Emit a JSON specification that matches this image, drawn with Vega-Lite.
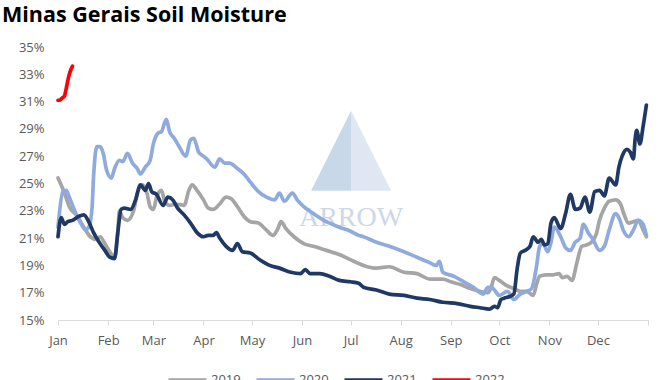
{
  "$schema": "https://vega.github.io/schema/vega-lite/v6.json",
  "width": 590,
  "height": 273,
  "autosize": {"type": "none"},
  "padding": {"left": 58, "top": 47, "right": 22, "bottom": 60},
  "background": "white",
  "config": {
    "view": {"stroke": null},
    "font": "Open Sans",
    "axis": {"labelOverlap": false, "labelFlush": false, "grid": false, "title": null, "labelFontSize": 13, "labelColor": "#595959", "labelFont": "Open Sans"},
    "axisX": {"domainColor": "#D9D9D9", "tickColor": "#D9D9D9", "tickSize": 5, "labelPadding": 9},
    "axisY": {"domain": false, "ticks": false, "labelPadding": 14},
    "title": {"font": "Open Sans", "fontSize": 21.5, "fontWeight": "bold", "color": "#000000", "anchor": "start"},
    "legend": {
      "direction": "horizontal",
      "symbolType": "stroke",
      "symbolSize": 1444,
      "symbolStrokeWidth": 3,
      "labelFontSize": 13,
      "labelColor": "#595959",
      "labelFont": "Open Sans",
      "columnPadding": 9,
      "labelOffset": 3
    }
  },
  "title": {
    "text": "Minas Gerais Soil Moisture",
    "frame": "group",
    "dx": -56,
    "offset": 15
  },
  "layer": [
    {
      "data": {"values": [{}]},
      "mark": {"type": "point", "shape": "M0,-1L-1,1L0,1Z", "size": 6400, "filled": true, "color": "#C9D8E8", "opacity": 1},
      "encoding": {
        "x": {"datum": 181.3, "type": "quantitative"},
        "y": {"datum": 27.4, "type": "quantitative"}
      }
    },
    {
      "data": {"values": [{}]},
      "mark": {"type": "point", "shape": "M0,-1L1,1L0,1Z", "size": 6400, "filled": true, "color": "#E1E7F2", "opacity": 1},
      "encoding": {
        "x": {"datum": 181.3, "type": "quantitative"},
        "y": {"datum": 27.4, "type": "quantitative"}
      }
    },
    {
      "data": {"values": [{}]},
      "mark": {"type": "text", "text": "ARROW", "font": "Liberation Serif", "fontSize": 28, "color": "#CCD8E8", "baseline": "alphabetic", "align": "center"},
      "encoding": {
        "x": {"datum": 181.3, "type": "quantitative"},
        "y": {"datum": 21.9, "type": "quantitative"}
      }
    },
    {
      "data": {
        "values": [
          {"year": "2019", "day": 0, "value": 25.4}, {"year": "2019", "day": 4, "value": 24.3}, {"year": "2019", "day": 7, "value": 23.3}, {"year": "2019", "day": 12, "value": 22.6}, {"year": "2019", "day": 16, "value": 21.8}, {"year": "2019", "day": 20, "value": 21.1}, {"year": "2019", "day": 24, "value": 20.9}, {"year": "2019", "day": 26, "value": 21.1}, {"year": "2019", "day": 29, "value": 20.6}, {"year": "2019", "day": 32, "value": 20.0}, {"year": "2019", "day": 35, "value": 19.6}, {"year": "2019", "day": 37, "value": 21.5}, {"year": "2019", "day": 38, "value": 23.0}, {"year": "2019", "day": 40, "value": 22.5}, {"year": "2019", "day": 43, "value": 22.3}, {"year": "2019", "day": 47, "value": 23.1}, {"year": "2019", "day": 49, "value": 24.3}, {"year": "2019", "day": 52, "value": 24.9}, {"year": "2019", "day": 55, "value": 24.3}, {"year": "2019", "day": 57, "value": 23.3}, {"year": "2019", "day": 59, "value": 23.1}, {"year": "2019", "day": 61, "value": 24.0}, {"year": "2019", "day": 64, "value": 24.5}, {"year": "2019", "day": 66, "value": 23.7}, {"year": "2019", "day": 69, "value": 23.4}, {"year": "2019", "day": 73, "value": 23.5}, {"year": "2019", "day": 78, "value": 23.4}, {"year": "2019", "day": 81, "value": 24.5}, {"year": "2019", "day": 83, "value": 24.9}, {"year": "2019", "day": 86, "value": 24.5}, {"year": "2019", "day": 90, "value": 23.8}, {"year": "2019", "day": 93, "value": 23.2}, {"year": "2019", "day": 96, "value": 23.1}, {"year": "2019", "day": 100, "value": 23.5}, {"year": "2019", "day": 104, "value": 24.0}, {"year": "2019", "day": 107, "value": 23.9}, {"year": "2019", "day": 111, "value": 23.3}, {"year": "2019", "day": 115, "value": 22.6}, {"year": "2019", "day": 119, "value": 22.2}, {"year": "2019", "day": 124, "value": 22.1}, {"year": "2019", "day": 128, "value": 21.7}, {"year": "2019", "day": 133, "value": 21.2}, {"year": "2019", "day": 136, "value": 21.7}, {"year": "2019", "day": 138, "value": 22.2}, {"year": "2019", "day": 141, "value": 21.7}, {"year": "2019", "day": 146, "value": 21.1}, {"year": "2019", "day": 152, "value": 20.6}, {"year": "2019", "day": 158, "value": 20.4}, {"year": "2019", "day": 166, "value": 20.1}, {"year": "2019", "day": 174, "value": 19.8}, {"year": "2019", "day": 183, "value": 19.3}, {"year": "2019", "day": 189, "value": 19.0}, {"year": "2019", "day": 197, "value": 18.8}, {"year": "2019", "day": 205, "value": 18.9}, {"year": "2019", "day": 214, "value": 18.5}, {"year": "2019", "day": 222, "value": 18.4}, {"year": "2019", "day": 230, "value": 18.0}, {"year": "2019", "day": 238, "value": 18.0}, {"year": "2019", "day": 243, "value": 17.8}, {"year": "2019", "day": 249, "value": 17.6}, {"year": "2019", "day": 255, "value": 17.3}, {"year": "2019", "day": 261, "value": 17.1}, {"year": "2019", "day": 266, "value": 17.0}, {"year": "2019", "day": 268, "value": 17.4}, {"year": "2019", "day": 270, "value": 18.1}, {"year": "2019", "day": 273, "value": 17.9}, {"year": "2019", "day": 278, "value": 17.5}, {"year": "2019", "day": 282, "value": 17.3}, {"year": "2019", "day": 286, "value": 17.1}, {"year": "2019", "day": 290, "value": 17.1}, {"year": "2019", "day": 294, "value": 16.8}, {"year": "2019", "day": 296, "value": 17.6}, {"year": "2019", "day": 298, "value": 18.2}, {"year": "2019", "day": 302, "value": 18.3}, {"year": "2019", "day": 306, "value": 18.3}, {"year": "2019", "day": 310, "value": 18.4}, {"year": "2019", "day": 312, "value": 18.1}, {"year": "2019", "day": 315, "value": 18.2}, {"year": "2019", "day": 318, "value": 17.9}, {"year": "2019", "day": 321, "value": 19.2}, {"year": "2019", "day": 324, "value": 20.4}, {"year": "2019", "day": 327, "value": 20.5}, {"year": "2019", "day": 330, "value": 20.7}, {"year": "2019", "day": 333, "value": 21.3}, {"year": "2019", "day": 335, "value": 22.3}, {"year": "2019", "day": 338, "value": 23.2}, {"year": "2019", "day": 341, "value": 23.7}, {"year": "2019", "day": 345, "value": 23.8}, {"year": "2019", "day": 348, "value": 23.5}, {"year": "2019", "day": 350, "value": 22.8}, {"year": "2019", "day": 353, "value": 22.1}, {"year": "2019", "day": 356, "value": 22.2}, {"year": "2019", "day": 359, "value": 22.3}, {"year": "2019", "day": 362, "value": 21.6}, {"year": "2019", "day": 364, "value": 21.1},

          {"year": "2020", "day": 0, "value": 21.8}, {"year": "2020", "day": 3, "value": 24.4}, {"year": "2020", "day": 5, "value": 24.5}, {"year": "2020", "day": 7, "value": 24.0}, {"year": "2020", "day": 10, "value": 23.1}, {"year": "2020", "day": 14, "value": 22.1}, {"year": "2020", "day": 17, "value": 21.6}, {"year": "2020", "day": 19, "value": 21.8}, {"year": "2020", "day": 21, "value": 23.1}, {"year": "2020", "day": 22, "value": 25.5}, {"year": "2020", "day": 24, "value": 27.7}, {"year": "2020", "day": 26, "value": 27.7}, {"year": "2020", "day": 28, "value": 27.2}, {"year": "2020", "day": 30, "value": 26.0}, {"year": "2020", "day": 33, "value": 25.4}, {"year": "2020", "day": 35, "value": 26.1}, {"year": "2020", "day": 38, "value": 26.7}, {"year": "2020", "day": 40, "value": 26.6}, {"year": "2020", "day": 43, "value": 27.2}, {"year": "2020", "day": 46, "value": 26.5}, {"year": "2020", "day": 49, "value": 26.1}, {"year": "2020", "day": 51, "value": 25.7}, {"year": "2020", "day": 54, "value": 26.2}, {"year": "2020", "day": 57, "value": 26.7}, {"year": "2020", "day": 59, "value": 27.9}, {"year": "2020", "day": 62, "value": 28.7}, {"year": "2020", "day": 64, "value": 28.8}, {"year": "2020", "day": 67, "value": 29.7}, {"year": "2020", "day": 69, "value": 28.8}, {"year": "2020", "day": 72, "value": 28.3}, {"year": "2020", "day": 75, "value": 27.7}, {"year": "2020", "day": 79, "value": 27.0}, {"year": "2020", "day": 82, "value": 28.2}, {"year": "2020", "day": 84, "value": 28.3}, {"year": "2020", "day": 87, "value": 27.3}, {"year": "2020", "day": 90, "value": 27.0}, {"year": "2020", "day": 92, "value": 26.8}, {"year": "2020", "day": 97, "value": 26.2}, {"year": "2020", "day": 100, "value": 26.8}, {"year": "2020", "day": 103, "value": 26.5}, {"year": "2020", "day": 106, "value": 26.5}, {"year": "2020", "day": 111, "value": 26.1}, {"year": "2020", "day": 115, "value": 25.7}, {"year": "2020", "day": 119, "value": 25.1}, {"year": "2020", "day": 124, "value": 24.4}, {"year": "2020", "day": 129, "value": 24.0}, {"year": "2020", "day": 134, "value": 23.8}, {"year": "2020", "day": 137, "value": 24.3}, {"year": "2020", "day": 140, "value": 23.7}, {"year": "2020", "day": 145, "value": 24.3}, {"year": "2020", "day": 148, "value": 23.8}, {"year": "2020", "day": 152, "value": 23.3}, {"year": "2020", "day": 158, "value": 22.8}, {"year": "2020", "day": 166, "value": 22.2}, {"year": "2020", "day": 174, "value": 21.8}, {"year": "2020", "day": 181, "value": 21.5}, {"year": "2020", "day": 186, "value": 21.2}, {"year": "2020", "day": 189, "value": 21.1}, {"year": "2020", "day": 197, "value": 20.7}, {"year": "2020", "day": 205, "value": 20.4}, {"year": "2020", "day": 214, "value": 20.0}, {"year": "2020", "day": 222, "value": 19.6}, {"year": "2020", "day": 230, "value": 19.2}, {"year": "2020", "day": 234, "value": 19.0}, {"year": "2020", "day": 236, "value": 19.3}, {"year": "2020", "day": 238, "value": 18.5}, {"year": "2020", "day": 245, "value": 18.2}, {"year": "2020", "day": 251, "value": 17.8}, {"year": "2020", "day": 257, "value": 17.4}, {"year": "2020", "day": 263, "value": 16.9}, {"year": "2020", "day": 266, "value": 17.4}, {"year": "2020", "day": 268, "value": 17.4}, {"year": "2020", "day": 270, "value": 17.2}, {"year": "2020", "day": 273, "value": 16.8}, {"year": "2020", "day": 278, "value": 17.1}, {"year": "2020", "day": 282, "value": 16.5}, {"year": "2020", "day": 286, "value": 16.9}, {"year": "2020", "day": 290, "value": 17.1}, {"year": "2020", "day": 293, "value": 17.3}, {"year": "2020", "day": 296, "value": 18.9}, {"year": "2020", "day": 298, "value": 20.4}, {"year": "2020", "day": 300, "value": 20.6}, {"year": "2020", "day": 303, "value": 20.0}, {"year": "2020", "day": 305, "value": 20.7}, {"year": "2020", "day": 307, "value": 21.8}, {"year": "2020", "day": 311, "value": 21.1}, {"year": "2020", "day": 314, "value": 20.3}, {"year": "2020", "day": 317, "value": 20.1}, {"year": "2020", "day": 320, "value": 20.7}, {"year": "2020", "day": 323, "value": 21.0}, {"year": "2020", "day": 325, "value": 22.0}, {"year": "2020", "day": 328, "value": 21.4}, {"year": "2020", "day": 331, "value": 20.9}, {"year": "2020", "day": 335, "value": 20.1}, {"year": "2020", "day": 338, "value": 20.4}, {"year": "2020", "day": 341, "value": 21.6}, {"year": "2020", "day": 345, "value": 22.8}, {"year": "2020", "day": 347, "value": 22.5}, {"year": "2020", "day": 350, "value": 21.5}, {"year": "2020", "day": 353, "value": 21.1}, {"year": "2020", "day": 356, "value": 21.6}, {"year": "2020", "day": 359, "value": 22.3}, {"year": "2020", "day": 362, "value": 22.0}, {"year": "2020", "day": 364, "value": 21.2},

          {"year": "2021", "day": 0, "value": 21.1}, {"year": "2021", "day": 2, "value": 22.5}, {"year": "2021", "day": 4, "value": 22.0}, {"year": "2021", "day": 6, "value": 22.2}, {"year": "2021", "day": 9, "value": 22.3}, {"year": "2021", "day": 13, "value": 22.6}, {"year": "2021", "day": 16, "value": 22.7}, {"year": "2021", "day": 19, "value": 22.2}, {"year": "2021", "day": 22, "value": 21.4}, {"year": "2021", "day": 26, "value": 20.6}, {"year": "2021", "day": 29, "value": 20.1}, {"year": "2021", "day": 32, "value": 19.6}, {"year": "2021", "day": 35, "value": 19.5}, {"year": "2021", "day": 37, "value": 21.4}, {"year": "2021", "day": 39, "value": 23.1}, {"year": "2021", "day": 41, "value": 23.2}, {"year": "2021", "day": 45, "value": 23.1}, {"year": "2021", "day": 48, "value": 23.8}, {"year": "2021", "day": 51, "value": 24.9}, {"year": "2021", "day": 54, "value": 24.5}, {"year": "2021", "day": 56, "value": 25.0}, {"year": "2021", "day": 58, "value": 24.4}, {"year": "2021", "day": 61, "value": 24.2}, {"year": "2021", "day": 65, "value": 23.4}, {"year": "2021", "day": 68, "value": 24.0}, {"year": "2021", "day": 71, "value": 23.8}, {"year": "2021", "day": 74, "value": 23.2}, {"year": "2021", "day": 78, "value": 22.7}, {"year": "2021", "day": 82, "value": 22.1}, {"year": "2021", "day": 86, "value": 21.4}, {"year": "2021", "day": 90, "value": 21.1}, {"year": "2021", "day": 93, "value": 21.2}, {"year": "2021", "day": 96, "value": 21.2}, {"year": "2021", "day": 98, "value": 21.4}, {"year": "2021", "day": 100, "value": 21.0}, {"year": "2021", "day": 104, "value": 20.4}, {"year": "2021", "day": 108, "value": 20.1}, {"year": "2021", "day": 111, "value": 20.6}, {"year": "2021", "day": 114, "value": 20.0}, {"year": "2021", "day": 119, "value": 19.9}, {"year": "2021", "day": 125, "value": 19.4}, {"year": "2021", "day": 131, "value": 19.0}, {"year": "2021", "day": 137, "value": 18.8}, {"year": "2021", "day": 144, "value": 18.5}, {"year": "2021", "day": 150, "value": 18.4}, {"year": "2021", "day": 153, "value": 18.7}, {"year": "2021", "day": 156, "value": 18.4}, {"year": "2021", "day": 162, "value": 18.4}, {"year": "2021", "day": 168, "value": 18.2}, {"year": "2021", "day": 174, "value": 17.9}, {"year": "2021", "day": 181, "value": 17.8}, {"year": "2021", "day": 186, "value": 17.7}, {"year": "2021", "day": 189, "value": 17.4}, {"year": "2021", "day": 197, "value": 17.2}, {"year": "2021", "day": 205, "value": 16.9}, {"year": "2021", "day": 214, "value": 16.8}, {"year": "2021", "day": 222, "value": 16.6}, {"year": "2021", "day": 230, "value": 16.5}, {"year": "2021", "day": 238, "value": 16.3}, {"year": "2021", "day": 247, "value": 16.2}, {"year": "2021", "day": 255, "value": 16.0}, {"year": "2021", "day": 261, "value": 15.9}, {"year": "2021", "day": 267, "value": 15.8}, {"year": "2021", "day": 270, "value": 16.0}, {"year": "2021", "day": 272, "value": 15.9}, {"year": "2021", "day": 274, "value": 16.5}, {"year": "2021", "day": 276, "value": 16.6}, {"year": "2021", "day": 279, "value": 16.7}, {"year": "2021", "day": 282, "value": 16.9}, {"year": "2021", "day": 284, "value": 18.7}, {"year": "2021", "day": 286, "value": 19.9}, {"year": "2021", "day": 289, "value": 20.1}, {"year": "2021", "day": 292, "value": 20.4}, {"year": "2021", "day": 294, "value": 21.1}, {"year": "2021", "day": 297, "value": 20.7}, {"year": "2021", "day": 299, "value": 20.9}, {"year": "2021", "day": 301, "value": 20.5}, {"year": "2021", "day": 303, "value": 20.6}, {"year": "2021", "day": 305, "value": 22.1}, {"year": "2021", "day": 307, "value": 22.5}, {"year": "2021", "day": 311, "value": 21.7}, {"year": "2021", "day": 314, "value": 22.8}, {"year": "2021", "day": 317, "value": 24.2}, {"year": "2021", "day": 320, "value": 23.1}, {"year": "2021", "day": 323, "value": 23.2}, {"year": "2021", "day": 326, "value": 24.0}, {"year": "2021", "day": 329, "value": 22.9}, {"year": "2021", "day": 332, "value": 24.4}, {"year": "2021", "day": 335, "value": 24.5}, {"year": "2021", "day": 338, "value": 24.1}, {"year": "2021", "day": 341, "value": 25.4}, {"year": "2021", "day": 345, "value": 24.9}, {"year": "2021", "day": 347, "value": 26.2}, {"year": "2021", "day": 349, "value": 27.0}, {"year": "2021", "day": 352, "value": 27.5}, {"year": "2021", "day": 354, "value": 27.3}, {"year": "2021", "day": 356, "value": 26.8}, {"year": "2021", "day": 357, "value": 28.2}, {"year": "2021", "day": 358, "value": 28.9}, {"year": "2021", "day": 360, "value": 27.9}, {"year": "2021", "day": 362, "value": 29.2}, {"year": "2021", "day": 364, "value": 30.75},

          {"year": "2022", "day": 0, "value": 31.1}, {"year": "2022", "day": 1, "value": 31.1}, {"year": "2022", "day": 2, "value": 31.2}, {"year": "2022", "day": 3, "value": 31.3}, {"year": "2022", "day": 4, "value": 31.4}, {"year": "2022", "day": 5, "value": 31.9}, {"year": "2022", "day": 6, "value": 32.5}, {"year": "2022", "day": 7, "value": 33.0}, {"year": "2022", "day": 8, "value": 33.35}, {"year": "2022", "day": 9, "value": 33.6}
        ]
      },
      "mark": {"type": "line", "strokeWidth": 3.7, "interpolate": "monotone", "strokeCap": "round", "strokeJoin": "round"},
      "encoding": {
        "x": {
          "field": "day",
          "type": "quantitative",
          "scale": {"domain": [0, 365], "nice": false, "zero": false},
          "axis": {
            "values": [0, 31, 59, 90, 120, 151, 181, 212, 243, 273, 304, 334, 365],
            "tickCount": 20,
            "labelExpr": "datum.value >= 365 ? '' : timeFormat(datetime(2001, 0, 1 + datum.value), '%b')"
          }
        },
        "y": {
          "field": "value",
          "type": "quantitative",
          "scale": {"domain": [15, 35], "nice": false, "zero": false},
          "axis": {
            "values": [15, 17, 19, 21, 23, 25, 27, 29, 31, 33, 35],
            "tickCount": 20,
            "labelExpr": "datum.value + '%'"
          }
        },
        "color": {
          "field": "year",
          "type": "nominal",
          "scale": {"domain": ["2019", "2020", "2021", "2022"], "range": ["#A5A5A5", "#8FAADC", "#1F3864", "#FF0000"]},
          "legend": {"title": null, "orient": "none", "legendX": 109, "legendY": 312}
        }
      }
    }
  ]
}
